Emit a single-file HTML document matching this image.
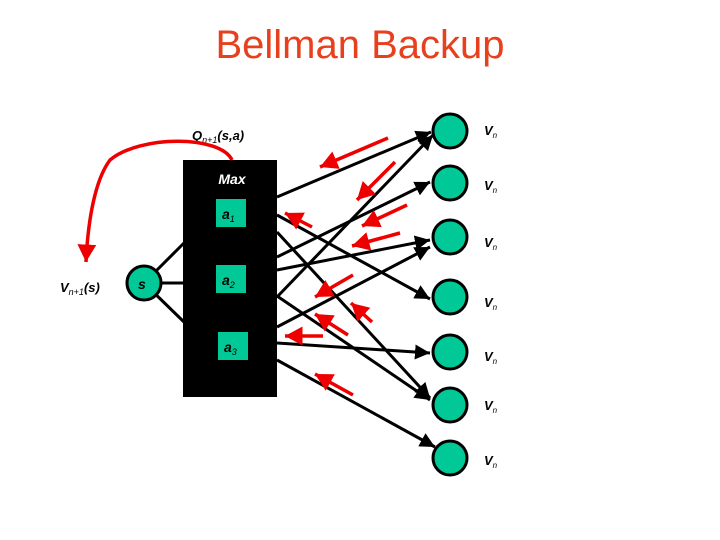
<!DOCTYPE html>
<html><head><style>body{margin:0;background:#fff}svg{display:block}text{font-family:"Liberation Sans",sans-serif}</style></head><body>
<svg width="720" height="540" viewBox="0 0 720 540">
<defs>
<marker id="ab" markerWidth="6" markerHeight="6" refX="5" refY="3" orient="auto" markerUnits="strokeWidth"><path d="M0,0.5 L5,3 L0,5.5z" fill="#000"/></marker>
<marker id="ar" markerWidth="6" markerHeight="6" refX="5" refY="3" orient="auto" markerUnits="strokeWidth"><path d="M0,0.3 L5,3 L0,5.7z" fill="#e00"/></marker>
</defs>
<text x="360" y="58" text-anchor="middle" font-size="40" fill="#e8401c">Bellman Backup</text>
<g stroke="#000" stroke-width="3">
<line x1="144" y1="283" x2="184" y2="243"/><line x1="144" y1="283" x2="184" y2="283"/><line x1="144" y1="283" x2="184" y2="322"/>
</g>
<rect x="183" y="160" width="94" height="237" fill="#000"/>
<text x="232" y="184" text-anchor="middle" font-size="14" font-style="italic" font-weight="bold" fill="#fff">Max</text>
<g fill="#00c896">
<rect x="216" y="199" width="30" height="28"/><rect x="216" y="265" width="30" height="28"/><rect x="218" y="332" width="30" height="28"/>
</g>
<g font-size="14" font-style="italic" font-weight="bold" fill="#000">
<text x="222" y="219">a<tspan font-size="9" font-weight="normal" dy="3">1</tspan></text>
<text x="222" y="285">a<tspan font-size="9" font-weight="normal" dy="3">2</tspan></text>
<text x="224" y="352">a<tspan font-size="9" font-weight="normal" dy="3">3</tspan></text>
</g>
<circle cx="144" cy="283" r="17" fill="#00c896" stroke="#000" stroke-width="3"/>
<text x="138" y="289" font-size="14" font-style="italic" font-weight="bold">s</text>
<g stroke="#000" stroke-width="3" marker-end="url(#ab)">
<line x1="277" y1="197" x2="431" y2="132"/>
<line x1="277" y1="215" x2="430" y2="299"/>
<line x1="277" y1="232" x2="430" y2="398"/>
<line x1="277" y1="257" x2="430" y2="182"/>
<line x1="277" y1="270" x2="430" y2="240"/>
<line x1="277" y1="297" x2="433" y2="135"/>
<line x1="277" y1="296" x2="430" y2="400"/>
<line x1="277" y1="327" x2="430" y2="247"/>
<line x1="277" y1="343" x2="430" y2="353"/>
<line x1="277" y1="360" x2="435" y2="447"/>
</g>
<g fill="#00c896" stroke="#000" stroke-width="3">
<circle cx="450" cy="131" r="17"/><circle cx="450" cy="183" r="17"/><circle cx="450" cy="237" r="17"/><circle cx="450" cy="297" r="17"/><circle cx="450" cy="352" r="17"/><circle cx="450" cy="405" r="17"/><circle cx="450" cy="458" r="17"/>
</g>
<g font-size="13" font-style="italic" font-weight="bold" fill="#000">
<text x="484" y="135">V<tspan font-size="8" font-weight="normal" dy="3">n</tspan></text>
<text x="484" y="190">V<tspan font-size="8" font-weight="normal" dy="3">n</tspan></text>
<text x="484" y="247">V<tspan font-size="8" font-weight="normal" dy="3">n</tspan></text>
<text x="484" y="307">V<tspan font-size="8" font-weight="normal" dy="3">n</tspan></text>
<text x="484" y="361">V<tspan font-size="8" font-weight="normal" dy="3">n</tspan></text>
<text x="484" y="410">V<tspan font-size="8" font-weight="normal" dy="3">n</tspan></text>
<text x="484" y="465">V<tspan font-size="8" font-weight="normal" dy="3">n</tspan></text>
<text x="192" y="140">Q<tspan font-size="9" font-weight="normal" dy="3">n+1</tspan><tspan dy="-3">(s,a)</tspan></text>
<text x="60" y="292">V<tspan font-size="9" font-weight="normal" dy="3">n+1</tspan><tspan dy="-3">(s)</tspan></text>
</g>
<g stroke="#e00" stroke-width="3.5" marker-end="url(#ar)" fill="none">
<line x1="388" y1="138" x2="320" y2="167"/>
<line x1="395" y1="162" x2="357" y2="200"/>
<line x1="407" y1="205" x2="362" y2="226"/>
<line x1="400" y1="233" x2="352" y2="246"/>
<line x1="312" y1="227" x2="285" y2="213"/>
<line x1="353" y1="275" x2="315" y2="297"/>
<line x1="372" y1="322" x2="351" y2="303"/>
<line x1="348" y1="335" x2="315" y2="314"/>
<line x1="323" y1="336" x2="285" y2="336"/>
<line x1="353" y1="395" x2="315" y2="374"/>
<path d="M232,160 C220,135 140,135 110,160 C95,180 88,220 86,262"/>
</g>
</svg>
</body></html>
